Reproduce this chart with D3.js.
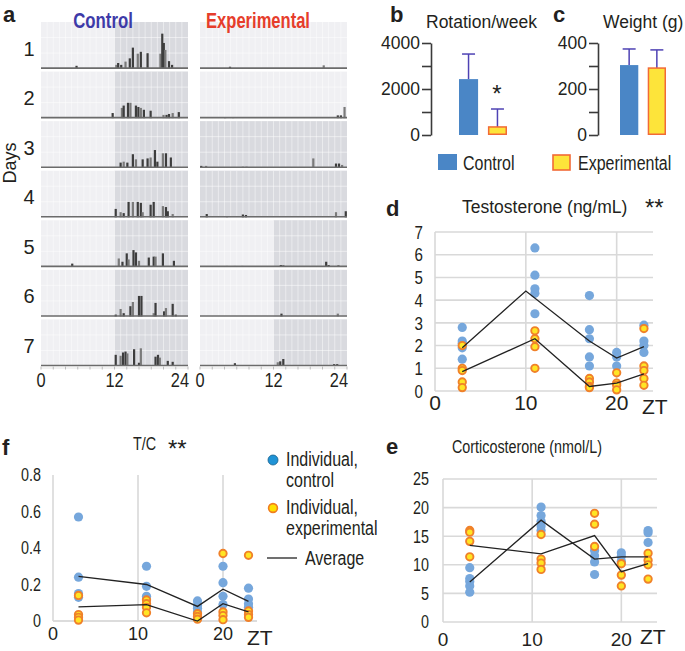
<!DOCTYPE html>
<html><head><meta charset="utf-8">
<script src="https://cdn.jsdelivr.net/npm/d3@7"></script>
<style>
body{margin:0;background:#fff}
svg{display:block}
text{font-family:"Liberation Sans",Arial,sans-serif;fill:#231f20}
</style></head>
<body><svg id="chart" width="685" height="651"></svg>
<script>
// ---------------- DATA ----------------
const days = [1, 2, 3, 4, 5, 6, 7];
const hourTicks = [0, 12, 24];
// activity bars per day: [hour, activity % of row]
const controlActivity = [
  [[5.8,6],[12.3,8],[12.6,12],[13.1,8],[13.8,15],[14.5,22],[15.0,45],[15.8,32],[16.3,36],[17.4,33],[19.5,32],[19.8,75],[20.05,55],[20.3,40],[20.9,16],[21.4,8]],
  [[11.7,11],[13.2,22],[13.5,27],[14.2,33],[14.6,33],[15.5,27],[15.9,24],[16.3,22],[16.8,18],[17.9,16],[20.0,7],[20.5,7],[20.9,9],[21.5,11],[22.5,13]],
  [[13.0,11],[13.5,13],[14.1,11],[15.0,29],[15.5,18],[16.6,18],[17.4,20],[17.9,22],[18.6,38],[19.0,13],[19.9,31],[20.4,31],[21.2,22]],
  [[12.2,18],[13.0,11],[13.5,9],[14.3,33],[15.0,33],[15.8,33],[16.3,31],[16.6,11],[17.9,27],[18.4,33],[19.9,24],[20.4,22],[20.7,13],[21.5,7]],
  [[5.1,7],[12.7,18],[13.3,11],[14.0,29],[14.3,16],[15.1,36],[15.5,31],[16.0,13],[17.6,20],[18.4,22],[18.7,22],[19.9,29],[21.7,13]],
  [[12.2,4],[13.0,16],[13.5,7],[14.6,22],[15.0,31],[16.0,44],[16.4,44],[18.4,7],[18.7,29],[20.1,11],[20.4,18],[21.5,27],[22.0,4]],
  [[12.2,24],[13.0,22],[13.4,29],[13.8,31],[14.1,27],[15.2,36],[16.0,7],[16.3,38],[18.7,20],[19.1,24],[19.4,18],[20.7,11],[21.5,9]]
];
const experimentalActivity = [
  [[4.9,4],[20.2,7]],
  [[4.1,2],[5.4,2],[22.5,6],[23.0,6],[23.6,24]],
  [[0.2,4],[1.0,4],[7.0,2],[7.6,2],[18.5,20],[22.2,9],[22.7,9],[23.2,6]],
  [[1.1,7],[4.4,2],[7.0,6],[7.5,5],[22.2,11],[23.8,13]],
  [[4.4,2],[5.7,2],[6.9,2],[13.2,4],[13.6,4],[20.6,11],[21.0,4],[22.6,4]],
  [[13.3,6],[22.5,6]],
  [[5.7,6],[12.7,8],[13.1,10],[13.6,15],[16.7,2],[21.9,4],[22.4,4]]
];
const controlDarkStart = [12, 12, 12, 12, 12, 12, 12];
const experimentalDarkStart = [null, null, 0, 0, 12, 12, 12];

const groups = ["Control", "Experimental"];
const rotationMean = [2430, 350];
const rotationErr = [1090, 780];
const rotationTicks = [0, 1000, 2000, 3000, 4000];
const weightMean = [304, 291];
const weightErr = [70, 79];
const weightTicks = [0, 100, 200, 300, 400];

const zt = [3, 11, 17, 20, 23];
const testoControl = [[2.8,2.2,2.1,1.9,1.4],[6.3,5.1,4.5,4.3,3.4],[4.2,2.7,2.3,1.5,1.1],[1.7,1.5,1.1],[2.9,2.2,2.0,1.7]];
const testoExp = [[2.0,1.0,0.9,0.4,0.15],[2.65,2.3,1.95,1.0],[0.55,0.4,0.2,0.15],[0.8,0.35,0.25,0.05],[2.75,1.1,0.9,0.55,0.25]];
const testoAvgControlZT = [3, 10, 17, 20, 23];
const testoAvgControl = [1.9, 4.4, 2.2, 1.45, 1.95];
const testoAvgExp = [0.85, 2.3, 0.2, 0.35, 0.75];
const testoTicks = [0,1,2,3,4,5,6,7];

const cortControl = [[9.5,7.6,7.1,6.3,5.2],[20.1,18.6,17.6,16.8,16.0],[12.5,11.6,10.5,8.3],[12.1,11.5,10.6],[16.0,15.6,13.9]];
const cortExp = [[16.0,15.7,14.1,11.4],[15.3,11.0,10.3,9.2],[19.0,17.1,13.2],[10.2,8.2,6.3],[12.0,10.8,10.0,7.5]];
const cortAvgControl = [7.0, 17.8, 11.0, 11.4, 11.4];
const cortAvgExp = [13.4, 11.9, 15.1, 8.8, 10.2];
const cortTicks = [0,5,10,15,20,25];

const tcControl = [[0.57,0.24,0.15,0.13],[0.30,0.19,0.135,0.12],[0.11,0.085,0.07,0.05],[0.30,0.21,0.135,0.09],[0.18,0.12,0.095,0.075]];
const tcExp = [[0.14,0.035,0.02,0.005],[0.115,0.095,0.075,0.045],[0.04,0.025,0.01],[0.37,0.05,0.03,0.007],[0.36,0.055,0.035,0.02]];
const tcAvgControl = [0.245, 0.2, 0.08, 0.174, 0.108];
const tcAvgExp = [0.077, 0.09, 0.0, 0.095, 0.05];
const tcTicks = [0, 0.2, 0.4, 0.6, 0.8];
const ztTicks = [0, 10, 20];

// ---------------- STYLE ----------------
const BLUE = "#4a86c6", YEL = "#fde43a", ORG = "#f26a36", ERR = "#4e42b4";
const DOTB = "#76a7dc", DOTY = "#ffe524", DOTO = "#f0812a";
const NARROW = 0.82;
const svg = d3.select("#chart");

function txt(g, x, y, s, opt = {}) {
  const t = g.append("text").text(s).style("font-size", (opt.size || 16) + "px");
  if (opt.narrow) t.attr("x", 0).attr("y", 0).attr("transform", `translate(${x},${y}) scale(${opt.sx || NARROW},1)`);
  else t.attr("x", x).attr("y", y);
  if (opt.anchor) t.attr("text-anchor", opt.anchor);
  if (opt.bold) t.style("font-weight", "bold");
  if (opt.fill) t.style("fill", opt.fill);
  return t;
}

// ---------------- PANEL A ----------------
const yRow = d3.scaleBand().domain(days).range([22, 366]).paddingInner(0.06);
const bw = yRow.bandwidth();
const hAct = d3.scaleLinear().domain([0, 100]).range([0, bw]);
const xCtrl = d3.scaleLinear().domain([0, 24]).range([41, 188]);
const xExp = d3.scaleLinear().domain([0, 24]).range([200, 347]);

function actogram(x, activity, darkStart) {
  const g = svg.append("g");
  days.forEach((d, i) => {
    const top = yRow(d), base = top + bw;
    g.append("rect").attr("x", x(0)).attr("y", top).attr("width", x(24) - x(0)).attr("height", bw).attr("fill", "#f0f0f3");
    if (darkStart[i] != null)
      g.append("rect").attr("x", x(darkStart[i])).attr("y", top).attr("width", x(24) - x(darkStart[i])).attr("height", bw).attr("fill", "#d9dadf");
    g.selectAll(null).data(d3.range(1, 24)).join("line")
      .attr("x1", h => x(h)).attr("x2", h => x(h)).attr("y1", top).attr("y2", base)
      .attr("stroke", "#fff").attr("stroke-opacity", 0.45).attr("stroke-width", 1);
    g.selectAll(null).data([1/3, 2/3]).join("line")
      .attr("x1", x(0)).attr("x2", x(24)).attr("y1", f => top + bw * f).attr("y2", f => top + bw * f)
      .attr("stroke", "#fff").attr("stroke-opacity", 0.5);
    g.selectAll(null).data(activity[i]).join("rect")
      .attr("x", a => x(a[0]) - 1.1).attr("width", 2.2)
      .attr("y", a => base - hAct(a[1])).attr("height", a => hAct(a[1]))
      .attr("fill", (a, j) => j % 3 === 1 ? "#7a7a7a" : "#3d3d3d");
    g.append("line").attr("x1", x(0)).attr("x2", x(24)).attr("y1", base - 0.5).attr("y2", base - 0.5)
      .attr("stroke", "#6b6b6b").attr("stroke-width", 1.6);
  });
  const ay = 368;
  g.append("line").attr("x1", x(0)).attr("x2", x(24)).attr("y1", ay).attr("y2", ay).attr("stroke", "#e4e4e4");
  g.selectAll(null).data(d3.range(0, 25, 2)).join("line")
    .attr("x1", h => x(h)).attr("x2", h => x(h)).attr("y1", ay - 1.5).attr("y2", ay + 1.5).attr("stroke", "#bbb");
  hourTicks.forEach((h, k) => {
    txt(g, x(h) + (k === 2 ? 1 : 0), 387, h, { size: 20, narrow: true, anchor: k === 2 ? "end" : "middle" });
  });
}
actogram(xCtrl, controlActivity, controlDarkStart);
actogram(xExp, experimentalActivity, experimentalDarkStart);

const ga = svg.append("g");
txt(ga, 3, 22, "a", { size: 22, bold: true });
txt(ga, 103, 28, "Control", { size: 21.5, bold: true, narrow: true, sx: 0.78, anchor: "middle", fill: "#3d3aa8" });
txt(ga, 258, 28, "Experimental", { size: 21.5, bold: true, narrow: true, sx: 0.77, anchor: "middle", fill: "#e63d2b" });
days.forEach(d => txt(ga, 29, yRow(d) + bw * 0.72, d, { size: 20, anchor: "middle" }));
txt(ga, 0, 0, "Days", { size: 18, anchor: "middle" }).attr("transform", "translate(16,163) rotate(-90)");

// ---------------- PANELS B & C ----------------
function barPanel(axisX, yMax, ticks, labelEvery, means, errs, band) {
  const g = svg.append("g");
  const y = d3.scaleLinear().domain([0, yMax]).range([135, 43]);
  const x = d3.scaleBand().domain(groups).range(band).paddingInner(0.34).paddingOuter(0);
  const ax = g.append("g").attr("transform", `translate(${axisX},0)`)
    .call(d3.axisLeft(y).tickValues(ticks).tickSize(9).tickSizeOuter(0).tickFormat(v => v % labelEvery === 0 ? v : ""));
  ax.select(".domain").attr("stroke", "#3a3a3a").attr("stroke-width", 1.6);
  ax.selectAll(".tick line").attr("stroke", "#3a3a3a").attr("stroke-width", 1.6);
  ax.selectAll(".tick text").style("font-size", "17.5px").style("font-family", '"Liberation Sans",Arial,sans-serif').attr("fill", "#231f20").attr("x", -11);
  groups.forEach((gname, i) => {
    const cx = x(gname) + x.bandwidth() / 2;
    const top = y(means[i] + errs[i]);
    g.append("line").attr("x1", cx).attr("x2", cx).attr("y1", y(means[i])).attr("y2", top).attr("stroke", ERR).attr("stroke-width", 1.5);
    g.append("line").attr("x1", cx - 6.5).attr("x2", cx + 6.5).attr("y1", top).attr("y2", top).attr("stroke", ERR).attr("stroke-width", 1.5);
  });
  g.selectAll(null).data(groups).join("rect")
    .attr("x", d => x(d) + (d === "Experimental" ? 0.75 : 0))
    .attr("width", d => x.bandwidth() - (d === "Experimental" ? 1.5 : 0))
    .attr("y", (d, i) => y(means[i])).attr("height", (d, i) => y(0) - y(means[i]) - (i ? 0.75 : 0))
    .attr("fill", (d, i) => i ? YEL : BLUE)
    .attr("stroke", (d, i) => i ? ORG : "none").attr("stroke-width", 1.5);
  return { g, x, y };
}
const pb = barPanel(431, 4000, rotationTicks, 2000, rotationMean, rotationErr, [459, 507]);
txt(pb.g, 390, 22, "b", { size: 22, bold: true });
txt(pb.g, 426, 28, "Rotation/week", { size: 17.5 });
txt(pb.g, 497, 102, "*", { size: 24, anchor: "middle" });
const pc = barPanel(598, 400, weightTicks, 200, weightMean, weightErr, [620, 666]);
txt(pc.g, 553, 22, "c", { size: 22, bold: true });
txt(pc.g, 603, 28, "Weight (g)", { size: 17.5 });
const gl = svg.append("g");
gl.append("rect").attr("x", 438).attr("y", 154).attr("width", 19).attr("height", 16).attr("fill", BLUE);
txt(gl, 463, 170, "Control", { size: 19.5, narrow: true });
gl.append("rect").attr("x", 553).attr("y", 155).attr("width", 17).attr("height", 15).attr("fill", YEL).attr("stroke", ORG).attr("stroke-width", 1.6);
txt(gl, 578, 170, "Experimental", { size: 19.5, narrow: true });

// ---------------- SCATTER PANELS ----------------
function scatter(opt) {
  const g = svg.append("g");
  const x = d3.scaleLinear().domain([0, 24]).range(opt.xr);
  const y = d3.scaleLinear().domain([0, opt.yMax]).range(opt.yr);
  if (opt.hgrid) {
    g.selectAll(null).data(opt.yTicks).join("line")
      .attr("x1", x(0)).attr("x2", x(24)).attr("y1", d => y(d)).attr("y2", d => y(d))
      .attr("stroke", "#d9d9d9").attr("stroke-width", 1.6);
  } else {
    g.append("line").attr("x1", x(0)).attr("x2", x(24)).attr("y1", y(0)).attr("y2", y(0))
      .attr("stroke", "#d0d0d0").attr("stroke-width", 1.6);
  }
  g.selectAll(null).data(ztTicks).join("line")
    .attr("x1", d => x(d)).attr("x2", d => x(d)).attr("y1", y(opt.yMax)).attr("y2", y(0))
    .attr("stroke", "#d9d9d9").attr("stroke-width", 1.6);
  g.selectAll(null).data(opt.yTicks).join("text")
    .attr("x", 0).attr("y", 0).attr("dy", "0.36em").attr("text-anchor", "end")
    .attr("transform", d => `translate(${x(0) - opt.yLabGap},${y(d)}) scale(${NARROW},1)`)
    .style("font-size", opt.yLabSize + "px").text(opt.yFmt);
  g.selectAll(null).data(ztTicks).join("text")
    .attr("x", d => x(d)).attr("y", opt.xLabY).attr("text-anchor", "middle")
    .style("font-size", opt.xLabSize + "px").text(d => d);
  txt(g, opt.ztX, opt.ztY, "ZT", { size: opt.ztSize });
  const ctrlPts = [], expPts = [];
  zt.forEach((t, i) => {
    opt.ctrl[i].forEach(v => ctrlPts.push([t, v]));
    opt.exp[i].forEach(v => expPts.push([t, v]));
  });
  g.selectAll(null).data(ctrlPts).join("circle")
    .attr("cx", d => x(d[0])).attr("cy", d => y(d[1])).attr("r", 4.6).attr("fill", DOTB);
  g.selectAll(null).data(expPts).join("circle")
    .attr("cx", d => x(d[0])).attr("cy", d => y(d[1])).attr("r", 3.7)
    .attr("fill", DOTY).attr("stroke", DOTO).attr("stroke-width", 1.9);
  const line = d3.line().x(d => x(d[0])).y(d => y(d[1]));
  const ctrlX = opt.ctrlAvgX || zt;
  g.append("path").attr("d", line(ctrlX.map((t, i) => [t, opt.avgC[i]])))
    .attr("fill", "none").attr("stroke", "#222").attr("stroke-width", 1.3);
  g.append("path").attr("d", line(zt.map((t, i) => [t, opt.avgE[i]])))
    .attr("fill", "none").attr("stroke", "#222").attr("stroke-width", 1.3);
  return g;
}

const gd = scatter({ xr: [435, 653], yMax: 7, yr: [391, 232], hgrid: true, yTicks: testoTicks,
  yLabGap: 12, yLabSize: 18.5, yFmt: d => d, xLabY: 410, xLabSize: 21, ztX: 642, ztY: 414, ztSize: 21,
  ctrl: testoControl, exp: testoExp, avgC: testoAvgControl, avgE: testoAvgExp, ctrlAvgX: testoAvgControlZT });
txt(gd, 386, 216, "d", { size: 22, bold: true });
txt(gd, 462, 213, "Testosterone (ng/mL)", { size: 17.5 });
txt(gd, 645, 216, "**", { size: 24 });

const ge = scatter({ xr: [443, 657], yMax: 25, yr: [622, 479], hgrid: true, yTicks: cortTicks,
  yLabGap: 14, yLabSize: 17.5, yFmt: d => d, xLabY: 646, xLabSize: 19, ztX: 640, ztY: 644, ztSize: 21,
  ctrl: cortControl, exp: cortExp, avgC: cortAvgControl, avgE: cortAvgExp });
txt(ge, 386, 454, "e", { size: 22, bold: true });
txt(ge, 452, 453, "Corticosterone (nmol/L)", { size: 17.5, narrow: true });

const gf = scatter({ xr: [53, 257], yMax: 0.8, yr: [621, 475], hgrid: false, yTicks: tcTicks,
  yLabGap: 12, yLabSize: 17.5, yFmt: d => d, xLabY: 640, xLabSize: 18, ztX: 247, ztY: 645, ztSize: 21,
  ctrl: tcControl, exp: tcExp, avgC: tcAvgControl, avgE: tcAvgExp });
txt(gf, 2, 455, "f", { size: 22, bold: true });
txt(gf, 133, 450, "T/C", { size: 17.5, narrow: true });
txt(gf, 168, 457, "**", { size: 24 });
const lg = svg.append("g");
lg.append("circle").attr("cx", 273).attr("cy", 460).attr("r", 5).attr("fill", "#1f93d6").attr("stroke", "#175f8c").attr("stroke-width", 0.8);
txt(lg, 286, 466, "Individual,", { size: 19.5, narrow: true });
txt(lg, 286, 487, "control", { size: 19.5, narrow: true });
lg.append("circle").attr("cx", 273).attr("cy", 508).attr("r", 4.4).attr("fill", "#ffe000").attr("stroke", "#f07d1f").attr("stroke-width", 1.6);
txt(lg, 286, 514, "Individual,", { size: 19.5, narrow: true });
txt(lg, 286, 535, "experimental", { size: 19.5, narrow: true });
lg.append("line").attr("x1", 267).attr("x2", 297).attr("y1", 558).attr("y2", 558).attr("stroke", "#222").attr("stroke-width", 1.3);
txt(lg, 305, 565, "Average", { size: 19.5, narrow: true });
</script></body></html>
